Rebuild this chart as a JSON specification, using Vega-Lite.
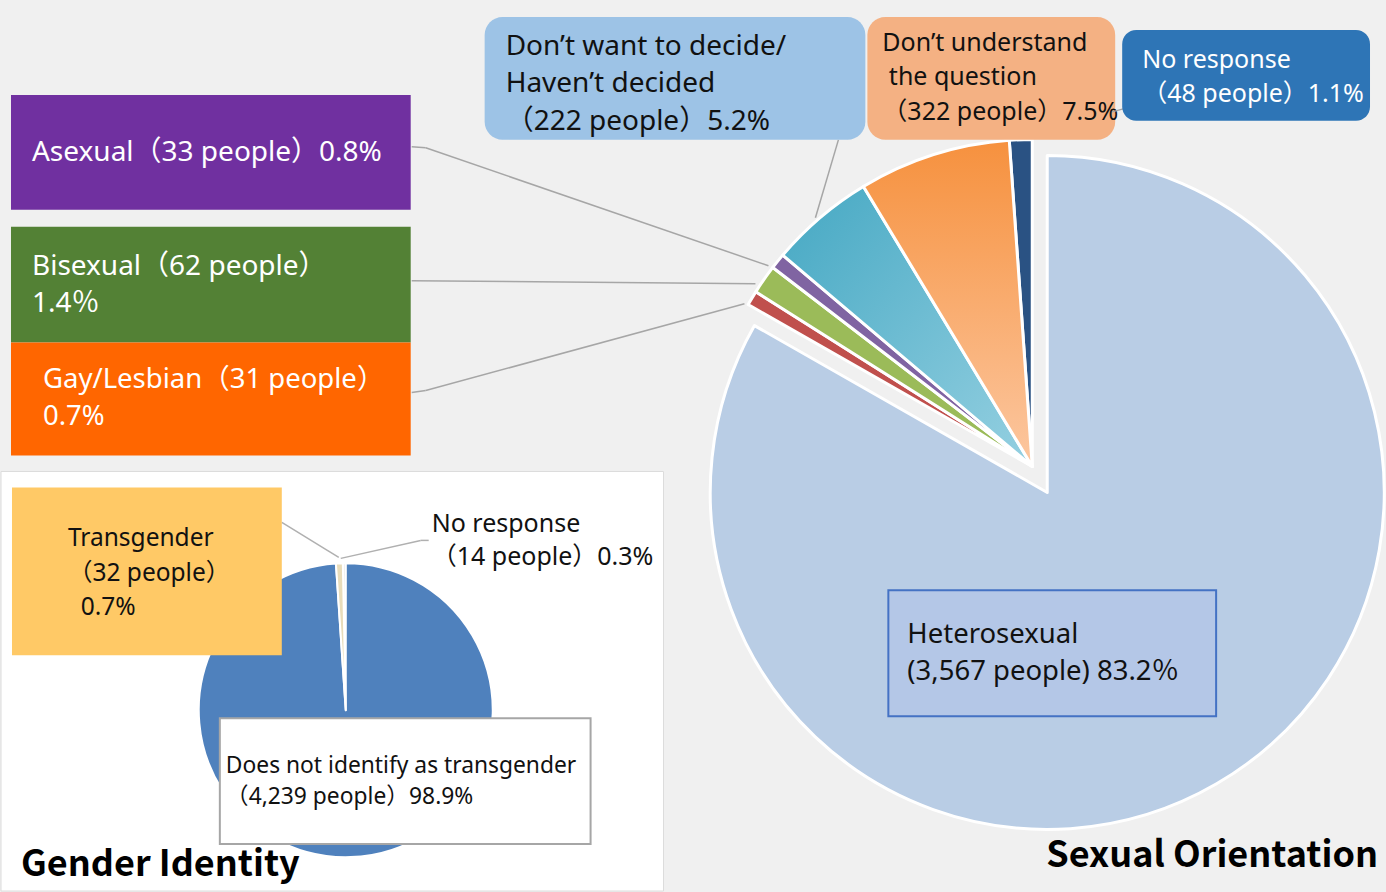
{
  "$schema": "https://vega.github.io/schema/vega-lite/v6.json",
  "width": 1386,
  "height": 892,
  "autosize": {"type": "fit", "contains": "padding"},
  "padding": 0,
  "background": "#f0f0f0",
  "config": {"view": {"stroke": null}, "text": {"font": "Noto Sans, Noto Sans CJK JP"}},
  "data": {"values": [
    {"group": "Sexual Orientation", "category": "Heterosexual", "people": 3567, "percent": 83.2, "label": "Heterosexual\n(3,567 people) 83.2％"},
    {"group": "Sexual Orientation", "category": "Gay/Lesbian", "people": 31, "percent": 0.7, "label": "Gay/Lesbian（31 people）\n0.7%"},
    {"group": "Sexual Orientation", "category": "Bisexual", "people": 62, "percent": 1.4, "label": "Bisexual（62 people）\n1.4％"},
    {"group": "Sexual Orientation", "category": "Asexual", "people": 33, "percent": 0.8, "label": "Asexual（33 people）0.8%"},
    {"group": "Sexual Orientation", "category": "Don’t want to decide/Haven’t decided", "people": 222, "percent": 5.2, "label": "Don’t want to decide/\nHaven’t decided\n（222 people）5.2%"},
    {"group": "Sexual Orientation", "category": "Don’t understand the question", "people": 322, "percent": 7.5, "label": "Don’t understand\n\u200b\u00a0the question\n（322 people）7.5%"},
    {"group": "Sexual Orientation", "category": "No response", "people": 48, "percent": 1.1, "label": "No response\n（48 people）1.1%"},
    {"group": "Gender Identity", "category": "No response", "people": 14, "percent": 0.3, "label": "No response\n（14 people）0.3%"},
    {"group": "Gender Identity", "category": "Does not identify as transgender", "people": 4239, "percent": 98.9, "label": "Does not identify as transgender\n（4,239 people）98.9%"},
    {"group": "Gender Identity", "category": "Transgender", "people": 32, "percent": 0.7, "label": "Transgender\n（32 people）\n\u200b\u00a0\u00a00.7%"}
  ]},
  "resolve": {"scale": {"color": "independent", "theta": "independent"}},
  "layer": [
    {
      "transform": [{"filter": {"field": "group", "equal": "Gender Identity"}}],
      "layer": [
        {
          "transform": [{"aggregate": [{"op": "count", "as": "n"}], "groupby": ["group"]}],
          "mark": {"type": "rect", "fill": "white", "stroke": "#dcdcdc", "strokeWidth": 1},
          "encoding": {
            "x": {"datum": 0, "type": "quantitative", "scale": {"domain": [0, 1386], "nice": false, "zero": false}, "axis": null},
            "x2": {"datum": 663},
            "y": {"datum": 472, "type": "quantitative", "scale": {"domain": [0, 892], "nice": false, "zero": false, "reverse": true}, "axis": null},
            "y2": {"datum": 892}
          }
        },
        {
          "transform": [{"stack": "people", "groupby": [], "as": ["s0", "s1"]}],
          "mark": {"type": "arc", "radius": 147, "stroke": "white", "strokeWidth": 2, "strokeJoin": "round"},
          "encoding": {
            "x": {"datum": 345, "type": "quantitative", "scale": {"domain": [0, 1386], "nice": false, "zero": false}, "axis": null},
            "y": {"datum": 711, "type": "quantitative", "scale": {"domain": [0, 892], "nice": false, "zero": false, "reverse": true}, "axis": null},
            "theta": {"field": "s1", "type": "quantitative", "scale": {"zero": true, "nice": false, "range": [-0.02, 6.2632]}},
            "theta2": {"field": "s0"},
            "color": {"field": "category", "type": "nominal", "legend": null,
              "scale": {"domain": ["No response", "Does not identify as transgender", "Transgender"], "range": ["#ececec", "#4f81bd", "#e8dcba"]}}
          }
        },
        {
          "transform": [{"filter": {"field": "category", "equal": "Transgender"}}],
          "layer": [
            {
              "mark": {"type": "rule", "stroke": "#b0b0b0", "strokeWidth": 1.5},
              "encoding": {
                "x": {"datum": 338, "type": "quantitative", "scale": {"domain": [0, 1386], "nice": false, "zero": false}, "axis": null},
                "x2": {"datum": 281},
                "y": {"datum": 558, "type": "quantitative", "scale": {"domain": [0, 892], "nice": false, "zero": false, "reverse": true}, "axis": null},
                "y2": {"datum": 523}
              }
            },
            {
              "mark": {"type": "rect", "fill": "#ffc966"},
              "encoding": {
                "x": {"datum": 11, "type": "quantitative", "scale": {"domain": [0, 1386], "nice": false, "zero": false}, "axis": null},
                "x2": {"datum": 281},
                "y": {"datum": 488, "type": "quantitative", "scale": {"domain": [0, 892], "nice": false, "zero": false, "reverse": true}, "axis": null},
                "y2": {"datum": 656}
              }
            },
            {
              "mark": {"type": "text", "align": "left", "baseline": "middle", "fontSize": 24.5, "lineHeight": 34.5, "lineBreak": "\n", "fill": "#111111"},
              "encoding": {
                "x": {"datum": 67, "type": "quantitative", "scale": {"domain": [0, 1386], "nice": false, "zero": false}, "axis": null},
                "y": {"datum": 540, "type": "quantitative", "scale": {"domain": [0, 892], "nice": false, "zero": false, "reverse": true}, "axis": null},
                "text": {"field": "label"}
              }
            }
          ]
        },
        {
          "transform": [{"filter": {"field": "category", "equal": "No response"}}],
          "layer": [
            {
              "mark": {"type": "rule", "stroke": "#b0b0b0", "strokeWidth": 1.5},
              "encoding": {
                "x": {"datum": 340, "type": "quantitative", "scale": {"domain": [0, 1386], "nice": false, "zero": false}, "axis": null},
                "x2": {"datum": 420},
                "y": {"datum": 559, "type": "quantitative", "scale": {"domain": [0, 892], "nice": false, "zero": false, "reverse": true}, "axis": null},
                "y2": {"datum": 541}
              }
            },
            {
              "mark": {"type": "rule", "stroke": "#b0b0b0", "strokeWidth": 1.5},
              "encoding": {
                "x": {"datum": 420, "type": "quantitative", "scale": {"domain": [0, 1386], "nice": false, "zero": false}, "axis": null},
                "x2": {"datum": 428},
                "y": {"datum": 541, "type": "quantitative", "scale": {"domain": [0, 892], "nice": false, "zero": false, "reverse": true}, "axis": null},
                "y2": {"datum": 541}
              }
            },
            {
              "mark": {"type": "text", "align": "left", "baseline": "middle", "fontSize": 25, "lineHeight": 33, "lineBreak": "\n", "fill": "#111111"},
              "encoding": {
                "x": {"datum": 431, "type": "quantitative", "scale": {"domain": [0, 1386], "nice": false, "zero": false}, "axis": null},
                "y": {"datum": 525, "type": "quantitative", "scale": {"domain": [0, 892], "nice": false, "zero": false, "reverse": true}, "axis": null},
                "text": {"field": "label"}
              }
            }
          ]
        },
        {
          "transform": [{"filter": {"field": "category", "equal": "Does not identify as transgender"}}],
          "layer": [
            {
              "mark": {"type": "rect", "fill": "white", "stroke": "#a6a6a6", "strokeWidth": 2},
              "encoding": {
                "x": {"datum": 219, "type": "quantitative", "scale": {"domain": [0, 1386], "nice": false, "zero": false}, "axis": null},
                "x2": {"datum": 590},
                "y": {"datum": 719, "type": "quantitative", "scale": {"domain": [0, 892], "nice": false, "zero": false, "reverse": true}, "axis": null},
                "y2": {"datum": 845}
              }
            },
            {
              "mark": {"type": "text", "align": "left", "baseline": "middle", "fontSize": 22.8, "lineHeight": 31, "lineBreak": "\n", "fill": "#111111"},
              "encoding": {
                "x": {"datum": 225, "type": "quantitative", "scale": {"domain": [0, 1386], "nice": false, "zero": false}, "axis": null},
                "y": {"datum": 767, "type": "quantitative", "scale": {"domain": [0, 892], "nice": false, "zero": false, "reverse": true}, "axis": null},
                "text": {"field": "label"}
              }
            }
          ]
        },
        {
          "transform": [{"aggregate": [{"op": "count", "as": "n"}], "groupby": ["group"]}],
          "mark": {"type": "text", "align": "left", "baseline": "middle", "fontSize": 36, "fontWeight": "bold", "fill": "black", "font": "Noto Sans CJK JP"},
          "encoding": {
            "x": {"datum": 20, "type": "quantitative", "scale": {"domain": [0, 1386], "nice": false, "zero": false}, "axis": null},
            "y": {"datum": 866, "type": "quantitative", "scale": {"domain": [0, 892], "nice": false, "zero": false, "reverse": true}, "axis": null},
            "text": {"field": "group"}
          }
        }
      ]
    },
    {
      "transform": [{"filter": {"field": "group", "equal": "Sexual Orientation"}}],
      "layer": [
        {
          "transform": [{"stack": "people", "groupby": [], "as": ["s0", "s1"]}],
          "encoding": {
            "theta": {"field": "s1", "type": "quantitative", "scale": {"zero": true, "nice": false}},
            "theta2": {"field": "s0"}
          },
          "layer": [
            {
              "transform": [{"filter": {"field": "category", "equal": "Heterosexual"}}],
              "mark": {"type": "arc", "radius": 337, "stroke": "white", "strokeWidth": 3, "strokeJoin": "round", "fill": "#b9cde5"},
              "encoding": {
                "x": {"datum": 1047, "type": "quantitative", "scale": {"domain": [0, 1386], "nice": false, "zero": false}, "axis": null},
                "y": {"datum": 493, "type": "quantitative", "scale": {"domain": [0, 892], "nice": false, "zero": false, "reverse": true}, "axis": null}
              }
            },
            {
              "transform": [{"filter": {"field": "category", "oneOf": ["Gay/Lesbian", "Bisexual", "Asexual", "No response"]}}],
              "mark": {"type": "arc", "radius": 327, "stroke": "white", "strokeWidth": 3, "strokeJoin": "round"},
              "encoding": {
                "x": {"datum": 1032, "type": "quantitative", "scale": {"domain": [0, 1386], "nice": false, "zero": false}, "axis": null},
                "y": {"datum": 467, "type": "quantitative", "scale": {"domain": [0, 892], "nice": false, "zero": false, "reverse": true}, "axis": null},
                "color": {"field": "category", "type": "nominal", "legend": null,
                  "scale": {"domain": ["Gay/Lesbian", "Bisexual", "Asexual", "No response"], "range": ["#c0504d", "#9bbb59", "#8064a2", "#2a5283"]}}
              }
            },
            {
              "transform": [{"filter": {"field": "category", "equal": "Don’t want to decide/Haven’t decided"}}],
              "mark": {"type": "arc", "radius": 327, "stroke": "white", "strokeWidth": 3, "strokeJoin": "round",
                "fill": {"gradient": "linear", "x1": 0, "y1": 0, "x2": 1, "y2": 1, "stops": [{"offset": 0, "color": "#45a8c3"}, {"offset": 1, "color": "#95d0e1"}]}},
              "encoding": {
                "x": {"datum": 1032, "type": "quantitative", "scale": {"domain": [0, 1386], "nice": false, "zero": false}, "axis": null},
                "y": {"datum": 467, "type": "quantitative", "scale": {"domain": [0, 892], "nice": false, "zero": false, "reverse": true}, "axis": null}
              }
            },
            {
              "transform": [{"filter": {"field": "category", "equal": "Don’t understand the question"}}],
              "mark": {"type": "arc", "radius": 327, "stroke": "white", "strokeWidth": 3, "strokeJoin": "round",
                "fill": {"gradient": "linear", "x1": 0, "y1": 0, "x2": 0, "y2": 1, "stops": [{"offset": 0, "color": "#f6913e"}, {"offset": 1, "color": "#fcc7a0"}]}},
              "encoding": {
                "x": {"datum": 1032, "type": "quantitative", "scale": {"domain": [0, 1386], "nice": false, "zero": false}, "axis": null},
                "y": {"datum": 467, "type": "quantitative", "scale": {"domain": [0, 892], "nice": false, "zero": false, "reverse": true}, "axis": null}
              }
            }
          ]
        },
        {
          "transform": [{"filter": {"field": "category", "equal": "Asexual"}}],
          "layer": [
            {
              "mark": {"type": "rule", "stroke": "#a6a6a6", "strokeWidth": 1.5},
              "encoding": {
                "x": {"datum": 411, "type": "quantitative", "scale": {"domain": [0, 1386], "nice": false, "zero": false}, "axis": null},
                "x2": {"datum": 425},
                "y": {"datum": 147, "type": "quantitative", "scale": {"domain": [0, 892], "nice": false, "zero": false, "reverse": true}, "axis": null},
                "y2": {"datum": 148}
              }
            },
            {
              "mark": {"type": "rule", "stroke": "#a6a6a6", "strokeWidth": 1.5},
              "encoding": {
                "x": {"datum": 425, "type": "quantitative", "scale": {"domain": [0, 1386], "nice": false, "zero": false}, "axis": null},
                "x2": {"datum": 768},
                "y": {"datum": 148, "type": "quantitative", "scale": {"domain": [0, 892], "nice": false, "zero": false, "reverse": true}, "axis": null},
                "y2": {"datum": 266}
              }
            },
            {
              "mark": {"type": "rect", "fill": "#7030a0"},
              "encoding": {
                "x": {"datum": 10, "type": "quantitative", "scale": {"domain": [0, 1386], "nice": false, "zero": false}, "axis": null},
                "x2": {"datum": 410},
                "y": {"datum": 95, "type": "quantitative", "scale": {"domain": [0, 892], "nice": false, "zero": false, "reverse": true}, "axis": null},
                "y2": {"datum": 210}
              }
            },
            {
              "mark": {"type": "text", "align": "left", "baseline": "middle", "fontSize": 28, "lineHeight": 37, "lineBreak": "\n", "fill": "white"},
              "encoding": {
                "x": {"datum": 31, "type": "quantitative", "scale": {"domain": [0, 1386], "nice": false, "zero": false}, "axis": null},
                "y": {"datum": 153, "type": "quantitative", "scale": {"domain": [0, 892], "nice": false, "zero": false, "reverse": true}, "axis": null},
                "text": {"field": "label"}
              }
            }
          ]
        },
        {
          "transform": [{"filter": {"field": "category", "equal": "Bisexual"}}],
          "layer": [
            {
              "mark": {"type": "rule", "stroke": "#a6a6a6", "strokeWidth": 1.5},
              "encoding": {
                "x": {"datum": 411, "type": "quantitative", "scale": {"domain": [0, 1386], "nice": false, "zero": false}, "axis": null},
                "x2": {"datum": 755},
                "y": {"datum": 281, "type": "quantitative", "scale": {"domain": [0, 892], "nice": false, "zero": false, "reverse": true}, "axis": null},
                "y2": {"datum": 284}
              }
            },
            {
              "mark": {"type": "rect", "fill": "#538135"},
              "encoding": {
                "x": {"datum": 10, "type": "quantitative", "scale": {"domain": [0, 1386], "nice": false, "zero": false}, "axis": null},
                "x2": {"datum": 410},
                "y": {"datum": 227, "type": "quantitative", "scale": {"domain": [0, 892], "nice": false, "zero": false, "reverse": true}, "axis": null},
                "y2": {"datum": 343}
              }
            },
            {
              "mark": {"type": "text", "align": "left", "baseline": "middle", "fontSize": 28, "lineHeight": 37, "lineBreak": "\n", "fill": "white"},
              "encoding": {
                "x": {"datum": 31, "type": "quantitative", "scale": {"domain": [0, 1386], "nice": false, "zero": false}, "axis": null},
                "y": {"datum": 267, "type": "quantitative", "scale": {"domain": [0, 892], "nice": false, "zero": false, "reverse": true}, "axis": null},
                "text": {"field": "label"}
              }
            }
          ]
        },
        {
          "transform": [{"filter": {"field": "category", "equal": "Gay/Lesbian"}}],
          "layer": [
            {
              "mark": {"type": "rule", "stroke": "#a6a6a6", "strokeWidth": 1.5},
              "encoding": {
                "x": {"datum": 411, "type": "quantitative", "scale": {"domain": [0, 1386], "nice": false, "zero": false}, "axis": null},
                "x2": {"datum": 425},
                "y": {"datum": 393, "type": "quantitative", "scale": {"domain": [0, 892], "nice": false, "zero": false, "reverse": true}, "axis": null},
                "y2": {"datum": 391}
              }
            },
            {
              "mark": {"type": "rule", "stroke": "#a6a6a6", "strokeWidth": 1.5},
              "encoding": {
                "x": {"datum": 425, "type": "quantitative", "scale": {"domain": [0, 1386], "nice": false, "zero": false}, "axis": null},
                "x2": {"datum": 744},
                "y": {"datum": 391, "type": "quantitative", "scale": {"domain": [0, 892], "nice": false, "zero": false, "reverse": true}, "axis": null},
                "y2": {"datum": 304}
              }
            },
            {
              "mark": {"type": "rect", "fill": "#ff6600"},
              "encoding": {
                "x": {"datum": 10, "type": "quantitative", "scale": {"domain": [0, 1386], "nice": false, "zero": false}, "axis": null},
                "x2": {"datum": 410},
                "y": {"datum": 343, "type": "quantitative", "scale": {"domain": [0, 892], "nice": false, "zero": false, "reverse": true}, "axis": null},
                "y2": {"datum": 456}
              }
            },
            {
              "mark": {"type": "text", "align": "left", "baseline": "middle", "fontSize": 27.5, "lineHeight": 37, "lineBreak": "\n", "fill": "white"},
              "encoding": {
                "x": {"datum": 42, "type": "quantitative", "scale": {"domain": [0, 1386], "nice": false, "zero": false}, "axis": null},
                "y": {"datum": 380, "type": "quantitative", "scale": {"domain": [0, 892], "nice": false, "zero": false, "reverse": true}, "axis": null},
                "text": {"field": "label"}
              }
            }
          ]
        },
        {
          "transform": [{"filter": {"field": "category", "equal": "Don’t want to decide/Haven’t decided"}}],
          "layer": [
            {
              "mark": {"type": "rule", "stroke": "#a6a6a6", "strokeWidth": 1.5},
              "encoding": {
                "x": {"datum": 815, "type": "quantitative", "scale": {"domain": [0, 1386], "nice": false, "zero": false}, "axis": null},
                "x2": {"datum": 838},
                "y": {"datum": 218, "type": "quantitative", "scale": {"domain": [0, 892], "nice": false, "zero": false, "reverse": true}, "axis": null},
                "y2": {"datum": 140}
              }
            },
            {
              "mark": {"type": "rect", "fill": "#9dc3e6", "cornerRadius": 18},
              "encoding": {
                "x": {"datum": 484, "type": "quantitative", "scale": {"domain": [0, 1386], "nice": false, "zero": false}, "axis": null},
                "x2": {"datum": 865},
                "y": {"datum": 17, "type": "quantitative", "scale": {"domain": [0, 892], "nice": false, "zero": false, "reverse": true}, "axis": null},
                "y2": {"datum": 140}
              }
            },
            {
              "mark": {"type": "text", "align": "left", "baseline": "middle", "fontSize": 28, "lineHeight": 37.5, "lineBreak": "\n", "fill": "#111111"},
              "encoding": {
                "x": {"datum": 505, "type": "quantitative", "scale": {"domain": [0, 1386], "nice": false, "zero": false}, "axis": null},
                "y": {"datum": 47, "type": "quantitative", "scale": {"domain": [0, 892], "nice": false, "zero": false, "reverse": true}, "axis": null},
                "text": {"field": "label"}
              }
            }
          ]
        },
        {
          "transform": [{"filter": {"field": "category", "equal": "Don’t understand the question"}}],
          "layer": [
            {
              "mark": {"type": "rect", "fill": "#f4b183", "cornerRadius": 18},
              "encoding": {
                "x": {"datum": 867, "type": "quantitative", "scale": {"domain": [0, 1386], "nice": false, "zero": false}, "axis": null},
                "x2": {"datum": 1115},
                "y": {"datum": 17, "type": "quantitative", "scale": {"domain": [0, 892], "nice": false, "zero": false, "reverse": true}, "axis": null},
                "y2": {"datum": 140}
              }
            },
            {
              "mark": {"type": "text", "align": "left", "baseline": "middle", "fontSize": 25, "lineHeight": 34.5, "lineBreak": "\n", "fill": "#111111"},
              "encoding": {
                "x": {"datum": 882, "type": "quantitative", "scale": {"domain": [0, 1386], "nice": false, "zero": false}, "axis": null},
                "y": {"datum": 43, "type": "quantitative", "scale": {"domain": [0, 892], "nice": false, "zero": false, "reverse": true}, "axis": null},
                "text": {"field": "label"}
              }
            }
          ]
        },
        {
          "transform": [{"filter": {"field": "category", "equal": "No response"}}],
          "layer": [
            {
              "mark": {"type": "rule", "stroke": "#a6a6a6", "strokeWidth": 1.5},
              "encoding": {
                "x": {"datum": 1112, "type": "quantitative", "scale": {"domain": [0, 1386], "nice": false, "zero": false}, "axis": null},
                "x2": {"datum": 1123},
                "y": {"datum": 112, "type": "quantitative", "scale": {"domain": [0, 892], "nice": false, "zero": false, "reverse": true}, "axis": null},
                "y2": {"datum": 109}
              }
            },
            {
              "mark": {"type": "rect", "fill": "#2e75b6", "cornerRadius": 14},
              "encoding": {
                "x": {"datum": 1122, "type": "quantitative", "scale": {"domain": [0, 1386], "nice": false, "zero": false}, "axis": null},
                "x2": {"datum": 1370},
                "y": {"datum": 30, "type": "quantitative", "scale": {"domain": [0, 892], "nice": false, "zero": false, "reverse": true}, "axis": null},
                "y2": {"datum": 121}
              }
            },
            {
              "mark": {"type": "text", "align": "left", "baseline": "middle", "fontSize": 25, "lineHeight": 34, "lineBreak": "\n", "fill": "white"},
              "encoding": {
                "x": {"datum": 1142, "type": "quantitative", "scale": {"domain": [0, 1386], "nice": false, "zero": false}, "axis": null},
                "y": {"datum": 60, "type": "quantitative", "scale": {"domain": [0, 892], "nice": false, "zero": false, "reverse": true}, "axis": null},
                "text": {"field": "label"}
              }
            }
          ]
        },
        {
          "transform": [{"filter": {"field": "category", "equal": "Heterosexual"}}],
          "layer": [
            {
              "mark": {"type": "rect", "fill": "#b4c7e7", "stroke": "#4472c4", "strokeWidth": 2},
              "encoding": {
                "x": {"datum": 888, "type": "quantitative", "scale": {"domain": [0, 1386], "nice": false, "zero": false}, "axis": null},
                "x2": {"datum": 1216},
                "y": {"datum": 591, "type": "quantitative", "scale": {"domain": [0, 892], "nice": false, "zero": false, "reverse": true}, "axis": null},
                "y2": {"datum": 717}
              }
            },
            {
              "mark": {"type": "text", "align": "left", "baseline": "middle", "fontSize": 27.5, "lineHeight": 37, "lineBreak": "\n", "fill": "#111111"},
              "encoding": {
                "x": {"datum": 907, "type": "quantitative", "scale": {"domain": [0, 1386], "nice": false, "zero": false}, "axis": null},
                "y": {"datum": 636, "type": "quantitative", "scale": {"domain": [0, 892], "nice": false, "zero": false, "reverse": true}, "axis": null},
                "text": {"field": "label"}
              }
            }
          ]
        },
        {
          "transform": [{"aggregate": [{"op": "count", "as": "n"}], "groupby": ["group"]}],
          "mark": {"type": "text", "align": "right", "baseline": "middle", "fontSize": 36, "fontWeight": "bold", "fill": "black", "font": "Noto Sans CJK JP"},
          "encoding": {
            "x": {"datum": 1378, "type": "quantitative", "scale": {"domain": [0, 1386], "nice": false, "zero": false}, "axis": null},
            "y": {"datum": 857, "type": "quantitative", "scale": {"domain": [0, 892], "nice": false, "zero": false, "reverse": true}, "axis": null},
            "text": {"field": "group"}
          }
        }
      ]
    }
  ]
}
